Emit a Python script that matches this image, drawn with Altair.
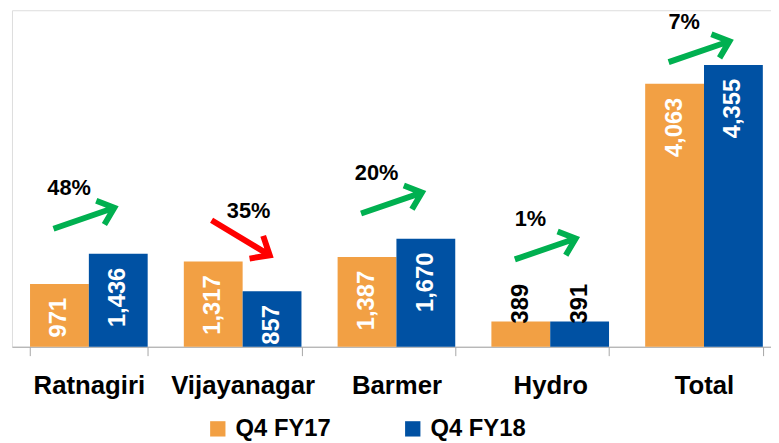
import altair as alt
import pandas as pd

# ---- data ----
categories = ["Ratnagiri", "Vijayanagar", "Barmer", "Hydro", "Total"]
series_names = ["Q4 FY17", "Q4 FY18"]
q4_fy17 = [971, 1317, 1387, 389, 4063]
q4_fy18 = [1436, 857, 1670, 391, 4355]
growth_labels = ["48%", "35%", "20%", "1%", "7%"]

ORANGE = "#F2A044"
BLUE = "#0051A3"
GREEN = "#00B050"
RED = "#FF0000"
GREY = "#A6A6A6"
FONT = "Liberation Sans"
Y_MAX = 5200

bars_df = pd.DataFrame({
    "cat": categories * 2,
    "series": [series_names[0]] * len(categories) + [series_names[1]] * len(categories),
    "value": q4_fy17 + q4_fy18,
})

# annotation layer: arrow sits above the tallest element of each group
ann_df = pd.DataFrame({"cat": categories, "fy17": q4_fy17, "fy18": q4_fy18, "pct": growth_labels})
ann_df["top"] = ann_df[["fy17", "fy18"]].max(axis=1)
ann_df["up"] = ann_df["fy18"] >= ann_df["fy17"]
headroom = ann_df["top"].where(ann_df["top"] >= 500, ann_df["top"] + 570)  # room for labels drawn above short bars
ann_df["level"] = (headroom + 550).clip(upper=Y_MAX - 640)

x_scale = alt.Scale(domain=categories, range=[0, 777], paddingInner=0.235, paddingOuter=0.1175)
y_scale = alt.Scale(domain=[0, Y_MAX], nice=False, zero=True)

x_axis = alt.Axis(
    title=None, labelAngle=0, labelFont=FONT, labelFontSize=26, labelFontWeight="bold",
    labelColor="black", labelPadding=17, tickBand="extent", tickSize=9, tickColor=GREY,
    tickWidth=1, domainColor=GREY, domainWidth=1, grid=False, labelLimit=300,
)

X = alt.X("cat:N", sort=categories, scale=x_scale, axis=x_axis)
XO = alt.XOffset("series:N", sort=series_names, scale=alt.Scale(paddingInner=0, paddingOuter=0))


def Y(field):
    return alt.Y(field, type="quantitative", scale=y_scale, axis=None)


bars = alt.Chart(bars_df).mark_bar().encode(
    x=X,
    xOffset=XO,
    y=Y("value"),
    color=alt.Color(
        "series:N",
        sort=series_names,
        scale=alt.Scale(domain=series_names, range=[ORANGE, BLUE]),
        legend=alt.Legend(
            title=None, orient="none", legendX=196, legendY=411, direction="horizontal",
            symbolType="square", symbolSize=240, symbolStrokeWidth=0, labelFont=FONT,
            labelFontSize=24, labelFontWeight="bold", labelColor="black", labelOffset=6,
            columnPadding=70,
        ),
    ),
)

inside_labels = alt.Chart(bars_df).transform_filter("datum.value >= 500").mark_text(
    angle=270, align="right", baseline="middle", dx=-14, color="white",
    font=FONT, fontSize=24, fontWeight="bold",
).encode(x=X, xOffset=XO, y=Y("value"), text=alt.Text("value:Q", format=",.0f"))

outside_labels = alt.Chart(bars_df).transform_filter("datum.value < 500").mark_text(
    angle=270, align="left", baseline="middle", dx=-2, color="black",
    font=FONT, fontSize=24, fontWeight="bold",
).encode(x=X, xOffset=XO, y=Y("value"), text=alt.Text("value:Q", format=",.0f"))

ARROW = "M-1,0L1,0M0.54,-0.39L1,0L0.54,0.39"

up_arrows = alt.Chart(ann_df).transform_filter("datum.up").mark_point(
    shape=ARROW, size=4225, filled=False, color=GREEN, stroke=GREEN, strokeWidth=6,
    opacity=1, angle=341, xOffset=-5, strokeJoin="miter", strokeCap="butt",
).encode(x=X, y=Y("level"))

down_arrows = alt.Chart(ann_df).transform_filter("!datum.up").mark_point(
    shape=ARROW, size=4700, filled=False, color=RED, stroke=RED, strokeWidth=6,
    opacity=1, angle=31, xOffset=-2, yOffset=12, strokeJoin="miter", strokeCap="butt",
).encode(x=X, y=Y("level"))

up_pct = alt.Chart(ann_df).transform_filter("datum.up").mark_text(
    align="center", baseline="middle", dx=-20, dy=-30, color="black",
    font=FONT, fontSize=22, fontWeight="bold",
).encode(x=X, y=Y("level"), text="pct:N")

down_pct = alt.Chart(ann_df).transform_filter("!datum.up").mark_text(
    align="center", baseline="middle", dx=6, dy=-15, color="black",
    font=FONT, fontSize=22, fontWeight="bold",
).encode(x=X, y=Y("level"), text="pct:N")

chart = alt.layer(
    bars, inside_labels, outside_labels, up_arrows, down_arrows, up_pct, down_pct
).properties(
    width=767, height=340,
    padding={"left": 4, "top": 0, "right": 0, "bottom": 95},
    autosize=alt.AutoSizeParams(type="none"),
).configure_view(stroke=None).configure(background="white")

chart.save("out.html", embed_options={"renderer": "svg", "actions": False})
